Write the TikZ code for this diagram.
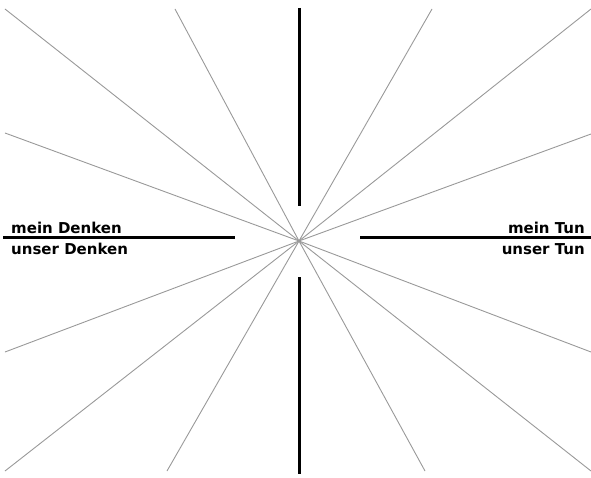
\documentclass[tikz,border=0pt]{standalone}
\usepackage{fontspec}
\setmainfont{DejaVu Sans}
\usetikzlibrary{positioning}

\begin{document}
\begin{tikzpicture}[x=1pt, y=-1pt,
    ray/.style  ={draw=gray!80, line width=0.9pt},
    axis/.style ={draw=black, line width=3pt},
    lbl/.style  ={font=\fontsize{15}{17}\selectfont\bfseries,
                  inner sep=0pt}
]
\useasboundingbox (0,0) rectangle (591,478);

% ============================================================
% STRAHLEN
% ============================================================

\coordinate (c) at (299,241);
\foreach \px/\py [count=\i] in {5/9, 175/9, 432/9, 591/9,
                                5/133, 591/134, 5/352, 591/352,
                                5/471, 167/471, 425/471, 591/471}
{
  \coordinate (r\i) at (\px,\py);
  \draw[ray] (c) -- (r\i);
}

% ============================================================
% ACHSEN
% ============================================================

% -- senkrecht --
\coordinate (vt1) at (299,8);
\coordinate (vt2) at (299,206);
\coordinate (vb1) at (299,277);
\coordinate (vb2) at (299,474);
\draw[axis] (vt1) -- (vt2);
\draw[axis] (vb1) -- (vb2);

% -- waagerecht --
\coordinate (dl) at (3,238);
\coordinate (dr) at (235,238);
\coordinate (tl) at (360,238);
\coordinate (tr) at (591,238);
\draw[axis] (dl) -- (dr);
\draw[axis] (tl) -- (tr);

% ============================================================
% BESCHRIFTUNG
% ============================================================

\node[lbl, above right=4pt and 8pt of dl] (md) {mein Denken};
\node[lbl, below right=5pt and 8pt of dl] (ud) {unser Denken};
\node[lbl, above left=4pt and 6pt of tr]  (mt) {mein Tun};
\node[lbl, below left=5pt and 6pt of tr]  (ut) {unser Tun};

\end{tikzpicture}
\end{document}
